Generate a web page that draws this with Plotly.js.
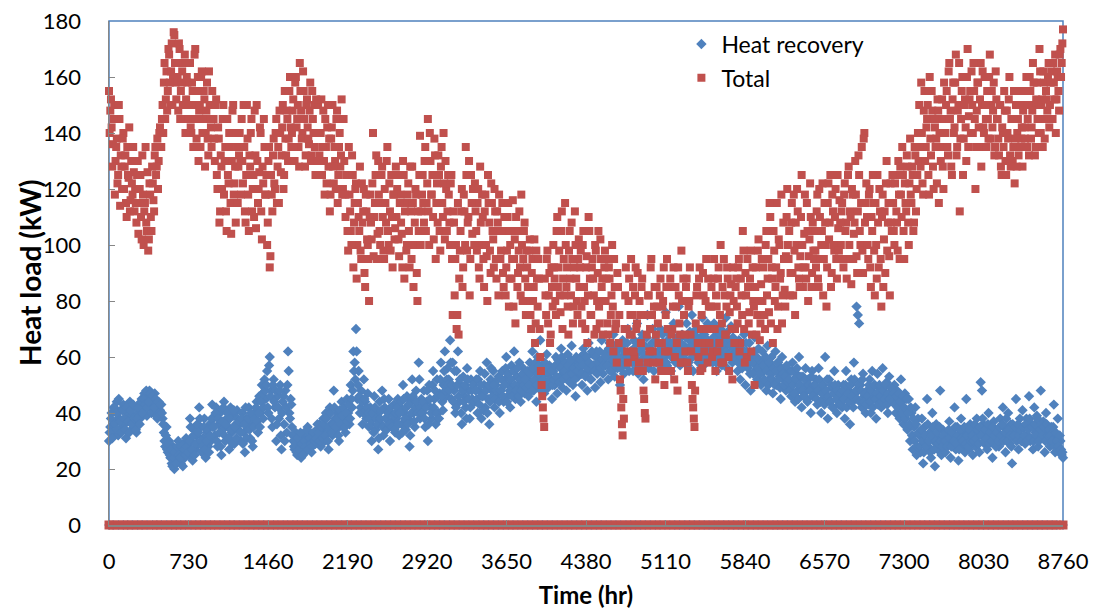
<!DOCTYPE html>
<html>
<head>
<meta charset="utf-8">
<script src="https://cdn.plot.ly/plotly-3.0.1.min.js"></script>
<style>html,body{margin:0;padding:0;background:#fff;}#chart{width:1099px;height:613px;}</style>
</head>
<body>
<div id="chart"></div>
<script>
// Readings are every 12 h: set A at hours 0,12,24,... and set B at hours 6,18,30,...
const sampleStepHours = 12;
const offsetHoursB = 6;

// Heat recovery load (kW), set A
const heatRecovery = [
30,35,40,33,42,37,44,32,38,41,35,43,36,31,40,38,44,34,39,42,
36,33,40,43,38,45,41,47,44,39,46,48,42,45,40,47,43,38,44,41,
43,38,33,28,35,26,30,24,22,28,20,25,23,30,27,22,26,29,24,31,
28,25,38,30,23,34,27,32,29,42,35,26,31,38,24,33,28,36,30,43,
38,32,42,28,36,40,25,34,44,30,38,35,27,42,33,39,29,36,41,34,
36,30,40,33,26,38,35,42,31,37,28,40,36,44,33,46,40,50,38,52,
45,55,40,60,48,35,52,42,30,46,38,50,27,44,36,48,33,62,40,45,
35,30,27,33,25,29,31,24,28,32,26,30,35,28,33,26,30,32,29,34,
30,36,28,33,38,30,40,34,27,42,36,32,48,38,34,40,30,37,44,35,
38,33,45,40,36,50,42,62,58,70,45,55,40,48,36,52,44,38,47,35,
42,30,38,46,34,40,27,44,36,48,32,42,38,35,45,30,40,37,43,33,
38,45,32,42,36,50,40,34,46,38,28,44,52,40,35,48,42,58,38,45,
40,48,35,44,30,50,42,38,55,45,36,52,40,47,58,44,50,62,46,56,
52,66,45,58,48,40,55,62,44,50,36,53,46,42,56,48,38,52,45,50,
44,52,40,48,55,38,46,50,42,58,45,36,52,48,55,42,50,46,53,40,
48,55,44,52,60,46,50,42,57,48,62,45,53,50,58,44,51,56,47,54,
52,46,58,50,62,48,55,44,60,53,66,50,56,47,54,61,49,57,52,45,
55,50,60,47,57,53,63,49,58,54,48,61,56,52,64,50,57,46,59,53,
56,60,50,63,54,58,48,65,55,52,61,57,49,62,55,59,51,66,54,58,
57,62,52,65,58,55,68,53,60,56,63,50,59,66,54,61,57,70,55,62,
60,55,66,58,72,54,62,57,68,52,64,59,75,56,63,60,70,55,65,58,
62,58,70,56,65,60,76,57,64,68,55,62,72,59,66,61,78,57,67,63,
64,59,72,57,66,62,75,55,68,63,70,58,65,61,74,57,67,60,72,62,
61,66,58,72,63,55,68,60,70,57,64,62,74,56,66,60,71,58,65,62,
60,55,66,52,63,58,68,50,62,56,65,48,60,54,67,57,52,63,58,50,
62,55,58,48,64,52,57,60,47,55,62,50,58,53,45,60,52,56,48,54,
50,55,46,58,52,44,54,48,60,50,42,53,47,56,45,52,49,40,55,48,
47,52,43,56,48,40,50,45,60,46,38,52,44,49,42,55,47,40,50,45,
46,42,50,38,55,45,48,36,52,44,58,47,78,75,72,50,42,54,46,40,
48,43,52,40,55,46,50,38,54,45,49,42,56,47,44,51,40,53,46,49,
45,50,40,48,43,38,52,44,36,47,41,34,45,30,40,27,35,42,25,38,
32,26,38,22,35,29,45,28,33,24,40,30,21,36,27,31,48,25,34,29,
26,33,29,37,24,31,28,42,27,35,23,30,38,28,33,26,45,31,27,36,
30,25,34,28,38,32,26,51,48,36,29,33,27,40,31,35,24,37,30,28,
33,28,38,30,42,35,26,32,40,29,36,22,34,31,45,33,27,38,30,41,
35,29,38,32,46,30,36,27,42,33,39,28,35,48,31,37,26,40,33,30,
28,35,30,43,26,32,38,27,30,25,24
];

// Heat recovery load (kW), set B
const heatRecoveryB = [
33,38,31,42,36,40,34,45,37,33,41,38,34,42,37,33,41,36,43,38,
34,38,42,36,44,40,45,43,48,42,44,47,40,46,42,45,39,44,40,43,
40,36,30,32,27,29,25,27,21,24,26,22,28,25,24,28,21,27,25,28,
26,30,35,27,32,25,29,36,33,38,30,28,35,27,30,34,26,32,38,35,
35,40,30,38,33,28,37,42,32,36,40,31,38,34,29,41,35,31,38,37,
33,38,29,36,42,31,38,34,40,30,35,38,42,37,40,35,44,47,42,48,
50,42,57,46,38,50,44,48,36,42,48,32,40,46,30,42,50,55,38,43,
32,28,30,26,31,27,33,29,25,30,28,34,27,31,29,28,33,30,31,36,
33,30,35,31,36,32,38,30,35,40,33,36,42,35,38,32,41,36,39,42,
35,40,37,43,38,45,48,55,52,62,50,46,42,44,40,45,41,42,40,38,
36,40,33,42,38,36,31,38,41,35,45,38,34,40,36,42,35,39,34,40,
42,36,40,44,33,45,38,42,36,43,32,40,46,37,42,44,40,52,42,40,
44,38,42,48,36,45,40,50,42,48,40,46,38,52,46,41,55,48,52,50,
48,58,50,44,55,42,50,46,52,40,48,44,50,38,52,45,42,48,50,44,
48,45,52,43,50,46,41,54,48,40,50,44,56,46,50,45,48,52,44,48,
52,46,50,56,44,54,48,52,46,55,50,48,56,46,52,48,54,50,52,49,
55,50,54,48,56,52,58,50,54,57,48,55,52,58,50,56,54,52,55,50,
52,57,53,59,51,56,60,52,55,58,53,57,51,59,54,56,52,60,55,57,
59,54,57,61,53,60,56,58,52,62,57,55,60,54,58,62,56,59,57,61,
60,57,63,55,61,59,64,57,62,58,60,56,64,58,62,59,65,58,61,60,
58,63,60,65,57,62,66,59,64,61,56,67,60,63,58,65,62,59,66,61,
65,60,63,68,61,64,58,66,62,69,60,65,63,58,67,62,65,60,68,64,
61,67,63,58,69,64,60,66,62,70,63,60,67,65,59,68,63,66,61,65,
64,60,67,62,58,65,63,68,61,66,59,64,62,69,61,64,60,67,63,59,
62,58,64,60,56,62,58,65,57,61,54,60,58,62,55,60,56,59,54,58,
57,52,60,55,50,58,54,52,56,50,55,58,52,49,56,54,50,53,57,51,
52,48,55,50,47,52,56,45,50,53,48,46,52,50,44,50,48,53,46,50,
50,45,48,52,44,47,50,43,48,52,46,44,50,42,47,50,45,48,43,47,
43,48,45,50,42,47,44,50,46,42,52,48,45,50,44,48,52,44,47,43,
46,50,44,48,42,50,45,47,43,50,46,44,48,45,50,43,47,45,49,44,
47,43,46,42,47,44,40,46,42,38,45,40,36,42,32,38,30,36,28,33,
28,34,30,26,32,28,36,30,26,32,35,27,30,33,29,35,30,28,32,30,
30,28,34,31,28,33,30,35,29,32,27,34,31,30,35,29,32,28,34,30,
32,30,36,31,34,29,35,32,38,30,34,31,36,29,33,30,35,32,28,33,
30,35,32,36,30,33,38,30,34,32,28,36,32,35,30,36,32,34,30,35,
32,36,30,34,38,31,35,30,36,32,38,30,34,36,32,35,30,36,32,34,
32,30,35,28,33,30,28,32,27,26
];

// Total heat load (kW), set A
const totalLoad = [
155,148,142,136,150,130,138,125,145,132,120,140,128,115,135,124,112,130,118,126,
120,108,130,115,125,102,118,112,135,105,98,122,110,128,116,132,125,138,130,142,
135,150,158,145,162,155,168,150,172,160,175,158,165,148,170,155,162,145,168,152,
158,145,165,140,155,150,170,138,160,148,135,162,145,152,140,158,132,150,142,155,
145,130,152,120,138,112,128,145,118,135,105,125,140,115,130,150,122,108,135,128,
140,118,130,150,112,125,138,105,128,145,120,110,132,150,115,126,140,102,122,135,
118,100,130,92,125,112,138,120,145,128,115,140,132,150,125,138,148,130,155,142,
140,152,130,160,145,135,165,148,140,155,128,150,142,136,158,132,145,150,125,140,
150,132,140,125,148,118,135,142,128,112,138,150,122,130,145,115,135,128,152,120,
130,110,125,98,118,105,132,92,115,122,100,110,128,95,108,120,85,112,100,80,
118,102,140,110,125,95,130,105,115,128,98,120,108,135,100,112,125,92,118,106,
110,125,96,118,104,130,88,115,100,122,92,112,128,85,108,118,80,105,139,112,
125,108,135,115,145,100,130,118,110,138,95,122,132,105,128,115,140,102,120,112,
118,100,125,75,108,95,70,115,88,105,120,92,112,135,98,110,82,125,104,115,
122,105,115,92,128,100,110,85,118,96,125,108,90,115,102,120,95,112,82,105,
98,115,85,105,92,110,78,100,88,116,95,72,105,90,112,82,100,95,108,75,
92,80,102,70,95,85,65,98,78,88,60,50,42,35,82,95,72,90,68,85,
100,88,75,110,92,82,105,70,95,115,85,78,98,88,108,72,92,100,80,95,
85,98,72,105,80,92,65,110,88,75,95,82,100,70,90,78,102,85,68,92,
80,95,68,88,75,100,62,85,72,90,65,52,42,32,38,82,70,58,88,75,
68,85,60,92,72,55,80,65,88,48,40,75,58,82,70,95,62,78,52,85,
72,58,88,65,80,50,75,95,62,85,55,70,92,60,78,48,82,68,98,58,
75,62,88,55,80,68,50,42,35,72,85,60,92,70,56,82,65,95,58,78,
70,85,62,95,55,78,88,65,100,72,58,82,68,92,60,76,86,52,80,70,
88,72,95,65,82,105,70,90,60,85,76,98,68,80,50,92,75,102,66,86,
80,95,70,105,88,76,110,92,65,98,85,115,78,100,90,72,108,84,96,120,
95,82,108,90,118,75,100,112,88,96,125,85,104,92,115,80,102,110,90,98,
105,92,118,85,110,100,122,95,108,78,115,102,125,90,112,98,120,88,106,116,
100,115,92,122,108,95,128,112,86,118,104,130,96,112,125,100,135,90,140,115,
110,95,120,85,105,115,82,100,125,92,112,78,118,102,90,130,108,96,122,105,
115,100,125,108,130,95,118,135,105,122,112,128,100,138,115,125,108,132,120,140,
150,128,140,118,155,135,145,125,160,132,148,120,142,138,152,115,135,145,128,158,
140,155,132,165,148,125,158,142,168,135,150,112,145,160,138,152,130,170,146,155,
162,140,155,120,148,158,135,165,150,142,160,145,155,138,168,150,142,158,135,152,
145,132,150,125,140,155,130,148,138,160,128,145,135,122,150,140,132,155,138,128,
150,138,160,145,132,155,142,165,150,135,158,145,170,140,152,162,138,155,148,165,
150,162,145,158,168,152,160,148,170,165,177
];

// Total heat load (kW), set B
const totalLoadB = [
140,152,128,145,118,135,122,150,114,128,138,120,132,110,125,142,116,122,135,112,
115,125,104,120,110,132,100,115,108,126,102,118,105,122,112,135,128,120,140,135,
145,140,165,152,148,170,158,162,150,176,165,152,160,172,145,158,150,165,140,160,
150,165,142,158,135,168,145,155,130,150,160,140,155,128,148,138,162,145,135,150,
138,150,125,142,108,132,120,150,130,112,145,122,135,104,148,118,128,140,115,132,
130,145,122,135,108,150,118,132,140,112,125,148,106,130,120,142,112,128,145,118,
125,108,135,96,118,132,122,140,115,135,148,126,142,120,155,132,145,138,160,135,
148,135,158,142,150,128,155,138,162,145,132,152,138,148,130,155,140,135,152,130,
140,125,152,135,130,145,122,150,138,118,142,128,135,120,148,125,140,132,118,145,
118,125,105,135,112,100,125,108,120,88,115,105,98,122,112,90,118,102,95,110,
108,122,96,115,132,104,118,100,125,110,95,115,130,105,122,98,110,118,102,128,
120,102,115,108,92,125,112,98,118,105,128,95,115,100,120,90,112,125,100,118,
115,130,105,122,112,140,118,125,102,132,115,108,125,98,135,110,122,130,105,125,
108,122,95,112,82,100,75,68,98,112,85,118,100,125,108,130,95,115,120,100,
112,98,120,88,108,118,95,112,100,80,115,98,122,105,92,112,88,108,118,95,
105,90,110,82,98,115,88,105,95,78,102,110,85,98,92,118,80,105,88,98,
85,98,75,90,80,102,72,88,95,70,55,46,38,88,75,98,82,65,92,78,
92,80,105,85,98,76,112,88,82,100,92,68,105,82,95,78,112,88,75,102,
92,78,100,85,70,96,82,105,75,92,88,68,98,80,105,72,95,88,80,98,
88,72,92,65,82,78,95,70,58,85,75,48,36,45,70,92,62,80,68,95,
75,62,82,70,90,58,75,85,55,45,38,68,82,62,92,75,58,85,68,78,
65,82,55,78,92,62,85,70,55,88,68,78,52,85,65,92,72,58,80,88,
68,85,58,78,92,62,45,38,48,82,65,88,55,75,90,62,80,70,88,65,
78,60,88,70,82,62,92,75,58,85,95,68,78,88,55,82,70,92,65,85,
78,92,62,88,75,98,58,82,95,72,88,62,92,78,85,68,98,80,72,95,
92,75,100,82,95,115,72,88,105,80,92,70,102,88,118,82,95,78,110,100,
105,90,115,82,98,108,120,92,85,110,100,92,118,88,105,96,122,85,108,95,
98,112,88,120,95,105,82,115,100,92,122,108,85,118,100,110,95,125,98,108,
112,95,118,105,88,125,100,110,120,95,108,118,90,132,105,115,98,138,108,122,
100,118,92,110,125,98,115,88,108,120,95,110,85,112,122,98,115,82,108,125,
105,122,112,98,118,128,110,125,95,115,132,108,122,118,128,105,135,112,125,130,
135,158,122,148,130,142,150,118,138,155,128,145,135,122,148,140,130,152,120,145,
150,135,162,145,128,152,140,158,132,148,165,138,155,125,150,142,160,135,152,140,
150,165,145,135,158,142,152,128,162,140,150,135,145,160,138,155,148,132,162,145,
138,150,128,142,135,148,125,140,152,132,145,130,155,138,128,145,150,135,142,148,
142,155,135,150,160,138,148,158,132,152,145,140,162,150,135,158,145,152,160,142,
158,145,165,152,140,162,155,168,160,172
];

// Hours at which the plant was off (both loads recorded as 0 kW)
const offHours = [0,38,85,130,172,215,262,305,350,398,440,483,530,575,618,660,705,752,796,840,885,930,972,1018,1062,1108,1150,1195,1240,1285,1330,1375,1420,1462,1508,1552,1598,1642,1688,1730,1775,1820,1866,1910,1955,2000,2045,2090,2136,2180,2225,2270,2315,2360,2405,2450,2495,2540,2585,2630,2676,2720,2765,2810,2856,2900,2945,2990,3035,3080,3126,3170,3215,3260,3305,3350,3396,3440,3485,3530,3575,3620,3666,3710,3755,3800,3845,3890,3936,3980,4025,4070,4115,4160,4206,4250,4295,4340,4385,4430,4476,4520,4565,4610,4655,4700,4746,4790,4835,4880,4925,4970,5016,5060,5105,5150,5195,5240,5286,5330,5375,5420,5465,5510,5556,5600,5645,5690,5735,5780,5826,5870,5915,5960,6005,6050,6096,6140,6185,6230,6275,6320,6366,6410,6455,6500,6545,6590,6636,6680,6725,6770,6815,6860,6906,6950,6995,7040,7085,7130,7176,7220,7265,7310,7355,7400,7446,7490,7535,7580,7625,7670,7716,7760,7805,7850,7895,7940,7986,8030,8075,8120,8165,8210,8256,8300,8345,8390,8435,8480,8526,8570,8615,8660,8705,8760];
const offLoad = offHours.map(() => 0);

// Axis ticks
const xTickVals = [0,730,1460,2190,2920,3650,4380,5110,5840,6570,7300,8030,8760];
const yTickVals = [0,20,40,60,80,100,120,140,160,180];

const seriesNames = ["Heat recovery", "Total"];
const yTitle = "Heat load (kW)";
const xTitle = "Time (hr)";
const blue = "#4F81BD", red = "#C0504D";

const hoursA = arr => arr.map((_, i) => i * sampleStepHours);
const hoursB = arr => arr.map((_, i) => offsetHoursB + i * sampleStepHours);
const hrX = hoursA(heatRecovery).concat(hoursB(heatRecoveryB));
const hrY = heatRecovery.concat(heatRecoveryB);
const totX = hoursA(totalLoad).concat(hoursB(totalLoadB));
const totY = totalLoad.concat(totalLoadB);

const traces = [
  {x: offHours, y: offLoad, type: "scatter", mode: "markers", showlegend: false, hoverinfo: "skip",
   cliponaxis: false, marker: {symbol: "diamond", size: 7.5, color: blue}},
  {x: hrX, y: hrY, type: "scatter", mode: "markers", name: seriesNames[0], legendgroup: "a",
   cliponaxis: false, marker: {symbol: "diamond", size: 8, color: blue}},
  {x: offHours, y: offLoad, type: "scatter", mode: "markers", showlegend: false, hoverinfo: "skip",
   cliponaxis: false, marker: {symbol: "square", size: 9, color: red}},
  {x: totX, y: totY, type: "scatter", mode: "markers", name: seriesNames[1], legendgroup: "b",
   cliponaxis: false, marker: {symbol: "square", size: 8, color: red}}
];

const font = "Lato, 'Open Sans', sans-serif";
const layout = {
  width: 1099, height: 613,
  margin: {l: 109, r: 36, t: 21, b: 88},
  paper_bgcolor: "#fff", plot_bgcolor: "#fff",
  font: {family: font, size: 22, color: "#000"},
  showlegend: true,
  legend: {x: 0.6, y: 0.997, xanchor: "left", yanchor: "top", bgcolor: "rgba(0,0,0,0)",
           traceorder: "grouped", tracegroupgap: 1, font: {family: font, size: 23, color: "#000"}},
  xaxis: {range: [0, 8760], tickmode: "array", tickvals: xTickVals, ticktext: xTickVals.map(String),
          ticks: "inside", ticklen: 5, tickcolor: "#868686", showline: true, linecolor: "#868686", linewidth: 1.5,
          showgrid: false, zeroline: false, ticklabelstandoff: 16, tickfont: {size: 22},
          title: {text: "<b>" + xTitle + "</b>", font: {family: font, size: 24}, standoff: 14}},
  yaxis: {range: [0, 180], tickmode: "array", tickvals: yTickVals, ticktext: yTickVals.map(String),
          ticks: "inside", ticklen: 6, tickcolor: "#868686", showline: true, linecolor: "#868686", linewidth: 1.5,
          showgrid: false, zeroline: false, ticklabelstandoff: 22, tickfont: {size: 22}},
  annotations: [{text: "<b>" + yTitle + "</b>", xref: "paper", yref: "paper", x: (30 - 109) / 954, y: 0.5,
                 xanchor: "center", yanchor: "middle", textangle: -90, showarrow: false,
                 font: {family: font, size: 28, color: "#000"}}],
  shapes: [{type: "rect", xref: "paper", yref: "paper", x0: 0, x1: 1, y0: 0, y1: 1,
            line: {color: blue, width: 1.5}, layer: "below"}]
};

Plotly.newPlot("chart", traces, layout, {displayModeBar: false, staticPlot: true});
</script>
</body>
</html>
